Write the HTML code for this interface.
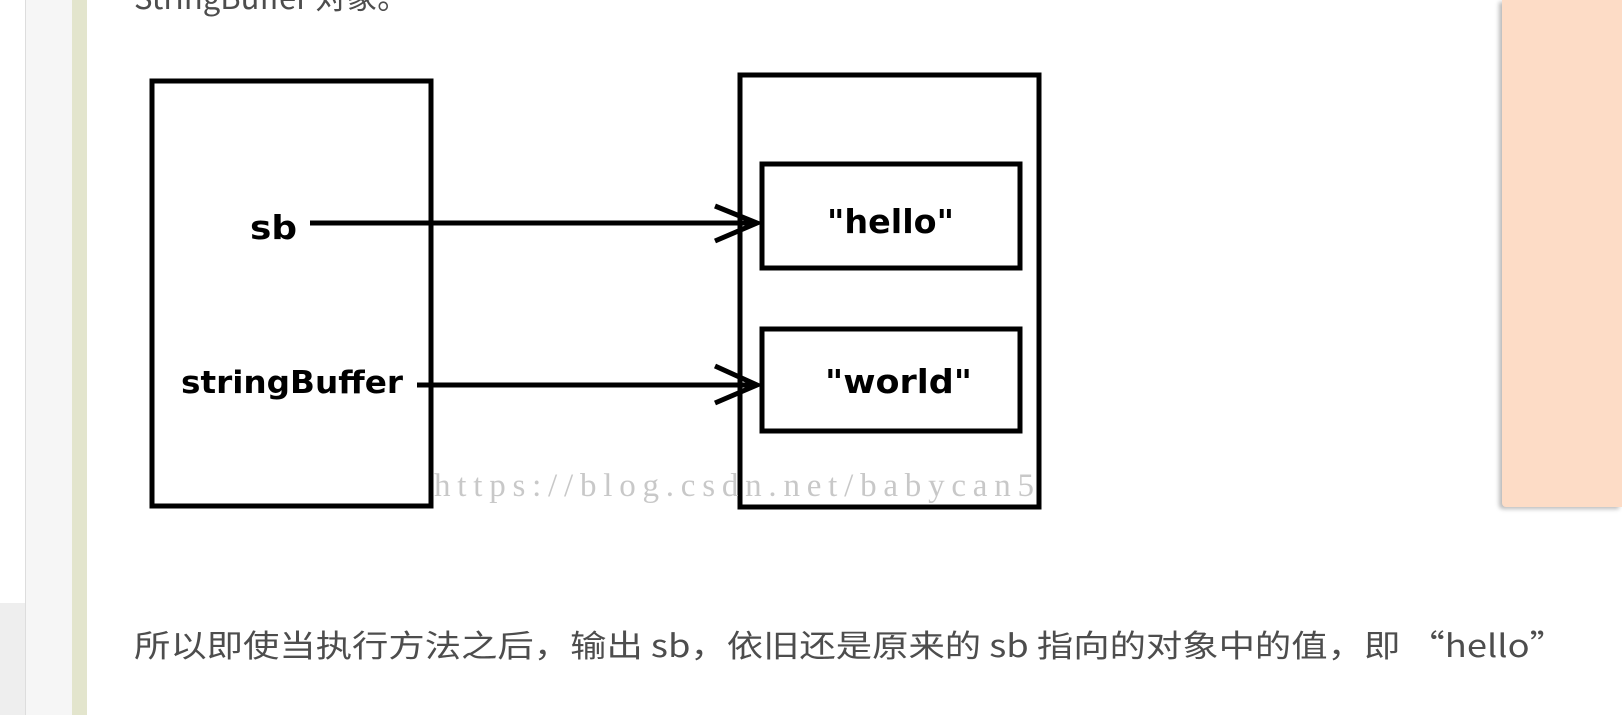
<!DOCTYPE html>
<html><head><meta charset="utf-8"><style>
body{margin:0;width:1622px;height:715px;position:relative;overflow:hidden;background:#fff;font-family:"Liberation Sans","Noto Sans CJK SC",sans-serif}
.a{position:absolute}
</style></head><body>
<div class="a" style="left:0;top:603px;width:25px;height:112px;background:#eee"></div>
<div class="a" style="left:25px;top:0;width:47px;height:715px;background:#f6f6f6;border-left:1px solid #ddd"></div>
<div class="a" style="left:72px;top:0;width:15px;height:715px;background:#e3e5cd"></div>
<div class="a" style="left:1502px;top:0;width:120px;height:507px;background:#fddcc6;box-shadow:-3px 2px 4px #bbb;border-bottom-left-radius:4px"></div>
<svg class="a" style="left:0;top:0" width="1622" height="715">
<text x="134" y="9" font-family="Noto Sans CJK SC, sans-serif" font-size="31" fill="#4d4d4d">StringBuffer 对象。</text>
<g fill="none" stroke="#000" stroke-width="5">
<rect x="152" y="81" width="279" height="425"/>
<rect x="740" y="75" width="299" height="432"/>
<rect x="762" y="164" width="258" height="104"/>
<rect x="762" y="329" width="258" height="102"/>
<line x1="310" y1="223" x2="757" y2="223"/>
<polyline points="715,206 757,223 715,241"/>
<line x1="417" y1="385" x2="757" y2="385"/>
<polyline points="715,366 757,385 715,403"/>
</g>
<g font-family="DejaVu Sans, sans-serif" font-weight="bold" font-size="33" fill="#000">
<text x="250" y="239" textLength="47" lengthAdjust="spacingAndGlyphs">sb</text>
<text x="181" y="393" font-size="31" textLength="222" lengthAdjust="spacingAndGlyphs">stringBuffer</text>
<text x="827" y="233" textLength="127" lengthAdjust="spacingAndGlyphs">"hello"</text>
<text x="825" y="393" textLength="147" lengthAdjust="spacingAndGlyphs">"world"</text>
</g>
<text x="434" y="496" font-family="Liberation Serif, serif" font-size="33" fill="#c8c8c8" textLength="600">https://blog.csdn.net/babycan5</text>
<text x="134" y="657" font-family="Noto Sans CJK SC, sans-serif" font-size="31" fill="#4d4d4d" textLength="1432" lengthAdjust="spacingAndGlyphs">所以即使当执行方法之后，输出 sb，依旧还是原来的 sb 指向的对象中的值，即 “hello”</text>
</svg>
</body></html>
